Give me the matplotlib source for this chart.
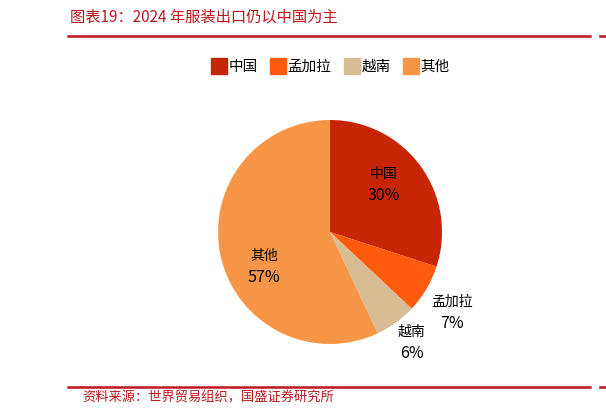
import matplotlib.pyplot as plt
from matplotlib.lines import Line2D

plt.rcParams['font.family'] = ['Noto Sans CJK SC', 'DejaVu Sans']

countries = ['中国', '孟加拉', '越南', '其他']
shares = [30, 7, 6, 57]
colors = ['#C82506', '#FF5A0D', '#D8BC93', '#F79646']

title = '图表19：2024 年服装出口仍以中国为主'
source = '资料来源：世界贸易组织，国盛证券研究所'
red = '#C0161E'

fig = plt.figure(figsize=(6.06, 4.18), dpi=100)

# pie axes: centre at (330, 232) px, radius ~112 px
half = 200
ax = fig.add_axes([(330 - half) / 606, (418 - 232 - half) / 418, 2 * half / 606, 2 * half / 418])

wedges, _ = ax.pie(shares, colors=colors, startangle=90, counterclock=False,
                   radius=1, wedgeprops=dict(linewidth=0))

lim = half / 112
ax.set_xlim(-lim, lim)
ax.set_ylim(-lim, lim)
ax.set_aspect('equal')
ax.axis('off')

label_pos = [(0.48, 0.44), (1.09, -0.70), (0.73, -0.97), (-0.59, -0.29)]
for name, val, (x, y) in zip(countries, shares, label_pos):
    ax.text(x, y + 0.08, name, ha='center', va='center', fontsize=10, color='black')
    ax.text(x, y - 0.115, f'{val}%', ha='center', va='center', fontsize=11.5, color='black')

handles = [Line2D([0], [0], marker='s', linestyle='none', markersize=11,
                  markerfacecolor=c, markeredgecolor=c) for c in colors]
fig.legend(handles, countries, loc='center', bbox_to_anchor=(331 / 606, 1 - 67 / 418),
           ncol=4, frameon=False, fontsize=10.5, handletextpad=0.15, columnspacing=0.9,
           handlelength=1.0)

# title and rules
fig.text(70 / 606, 1 - 17 / 418, title, fontsize=11, color=red, style='italic',
         va='center', ha='left')
fig.add_artist(Line2D([68 / 606, 590 / 606], [1 - 36 / 418] * 2, color=red, lw=1.8))
fig.add_artist(Line2D([600 / 606, 606 / 606], [1 - 36 / 418] * 2, color=red, lw=1.8))
fig.add_artist(Line2D([68 / 606, 590 / 606], [1 - 387 / 418] * 2, color=red, lw=1.8))
fig.add_artist(Line2D([600 / 606, 606 / 606], [1 - 387 / 418] * 2, color=red, lw=1.8))
fig.text(82 / 606, 1 - 398 / 418, source, fontsize=9.5, color=red, style='italic',
         va='center', ha='left')

fig.savefig('out.png', dpi=100)
